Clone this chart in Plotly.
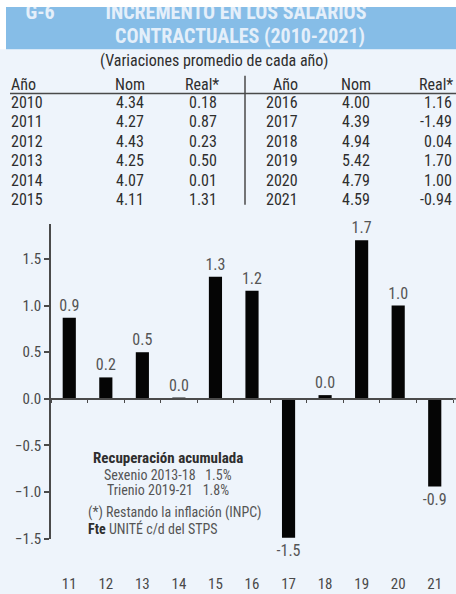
import plotly.graph_objects as go

W, H = 456, 594

# Annual average contractual wage increase (%), nominal and real
years = [2010, 2011, 2012, 2013, 2014, 2015, 2016, 2017, 2018, 2019, 2020, 2021]
nominal = [4.34, 4.27, 4.43, 4.25, 4.07, 4.11, 4.00, 4.39, 4.94, 5.42, 4.79, 4.59]
real = [0.18, 0.87, 0.23, 0.50, 0.01, 1.31, 1.16, -1.49, 0.04, 1.70, 1.00, -0.94]

# Bars show the real change from 2011 on, labelled by two-digit year
bar_years = [str(y)[2:] for y in years[1:]]
bar_values = real[1:]

y_ticks = [1.5, 1.0, 0.5, 0.0, -0.5, -1.0, -1.5]
y_min, y_max = -1.5, 1.88

NARROW = "Roboto Condensed, DejaVu Sans Condensed, Liberation Sans Narrow, sans-serif"
BG = "#eef4fb"
BAND = "#86bde7"
TITLE_C = "#e4effa"
DARK = "#2e2e2e"
GREY = "#4a4a4a"


def fx(px):
    return px / W


def fy(py):
    return 1 - py / H


# plot area in pixels
dom_x = (51, 453)
dom_y = (227, 547)
ydom = [fy(dom_y[1]), fy(dom_y[0])]
zero_pos = ydom[0] + (0 - y_min) / (y_max - y_min) * (ydom[1] - ydom[0])

fig = go.Figure()

fig.add_trace(go.Bar(
    x=bar_years, y=bar_values, width=0.36,
    marker=dict(color="#050505", line=dict(width=0)),
    texttemplate="%{y:.1f}", textposition="outside", cliponaxis=False,
    constraintext="none",
    textfont=dict(family=NARROW, size=16, color="#555555"),
    xaxis="x", yaxis="y", hoverinfo="skip",
))

# Header title drawn as text marks so the top strip can trim it
fig.add_trace(go.Scatter(
    x=[40, 236, 240], y=[14, 14, 39],
    text=["<b>G-6</b>", "<b>INCREMENTO EN LOS SALARIOS</b>", "<b>CONTRACTUALES (2010-2021)</b>"],
    mode="text", textposition="middle center",
    textfont=dict(family=NARROW, size=20, color=TITLE_C),
    xaxis="x3", yaxis="y3", hoverinfo="skip", cliponaxis=False,
))

annotations = []


def txt(s, px, py, size=16, color=DARK, xanchor="left", bold=False):
    annotations.append(dict(
        text=f"<b>{s}</b>" if bold else s, x=fx(px), y=fy(py),
        xref="paper", yref="paper", xanchor=xanchor, yanchor="middle",
        showarrow=False, font=dict(family=NARROW, size=size, color=color),
    ))


# Table of yearly values
txt("(Variaciones promedio de cada año)", 214, 61, size=16, xanchor="center")
head_y = 86
txt("Año", 9, head_y)
txt("Nom", 147, head_y, xanchor="right")
txt("Real*", 221, head_y, xanchor="right")
txt("Año", 300, head_y, xanchor="right")
txt("Nom", 373, head_y, xanchor="right")
txt("Real*", 455, head_y, xanchor="right")

half = len(years) // 2
for i in range(half):
    ry = 104 + 19.8 * i
    txt(str(years[i]), 9, ry)
    txt(f"{nominal[i]:.2f}", 146, ry, xanchor="right")
    txt(f"{real[i]:.2f}", 219, ry, xanchor="right")
    j = i + half
    txt(str(years[j]), 300, ry, xanchor="right")
    txt(f"{nominal[j]:.2f}", 372, ry, xanchor="right")
    txt(f"{real[j]:.2f}", 454, ry, xanchor="right")

# Notes inside the chart
txt("Recuperación acumulada", 168, 465, size=15, xanchor="center", bold=True, color=DARK)
txt("Sexenio 2013-18   1.5%", 168, 482, size=14, xanchor="center", color="#555555")
txt("Trienio 2019-21   1.8%", 168, 498, size=14, xanchor="center", color="#555555")
txt("(*) Restando la inflación (INPC)", 86, 520, size=14, color="#555555")
annotations.append(dict(
    text="<b>Fte</b> <span style='color:#555555'>UNITÉ c/d del STPS</span>",
    x=fx(86), y=fy(537), xref="paper", yref="paper", xanchor="left", yanchor="middle",
    showarrow=False, font=dict(family=NARROW, size=14, color=DARK),
))

shapes = [
    dict(type="rect", xref="paper", yref="paper", x0=0, x1=1, y0=fy(50), y1=1,
         fillcolor="white", line=dict(width=0), layer="below"),
    dict(type="rect", xref="paper", yref="paper", x0=fx(6), x1=1, y0=fy(50), y1=fy(7),
         fillcolor=BAND, line=dict(width=0), layer="below"),
    # white strip trimming the top of the header text
    dict(type="rect", xref="paper", yref="paper", x0=0, x1=1, y0=fy(7), y1=1,
         fillcolor="white", line=dict(width=0), layer="above"),
    # table rules
    dict(type="line", xref="paper", yref="paper", x0=fx(10), x1=1, y0=fy(95), y1=fy(95),
         line=dict(color=GREY, width=1.5)),
    dict(type="line", xref="paper", yref="paper", x0=fx(245), x1=fx(245), y0=fy(77), y1=fy(208),
         line=dict(color=GREY, width=1.5)),
    # zero line carried on to the right edge
    dict(type="line", xref="paper", yref="y", x0=fx(dom_x[1]), x1=1, y0=0, y1=0,
         line=dict(color=GREY, width=1.5)),
]

fig.update_layout(
    width=W, height=H, margin=dict(l=0, r=0, t=0, b=0),
    paper_bgcolor=BG, plot_bgcolor="rgba(0,0,0,0)",
    showlegend=False, annotations=annotations, shapes=shapes,
    xaxis=dict(
        domain=[fx(dom_x[0]), fx(dom_x[1])], anchor="free", position=zero_pos,
        type="category", range=[-0.5, len(bar_years) - 0.5],
        showline=True, linecolor=GREY, linewidth=1.5,
        ticks="outside", tickson="boundaries", ticklen=3, tickcolor=GREY, tickwidth=1,
        showticklabels=False, showgrid=False, zeroline=False, fixedrange=True,
    ),
    xaxis2=dict(
        domain=[fx(dom_x[0]), fx(dom_x[1])], overlaying="x", anchor="free",
        position=fy(582), range=[-0.5, len(bar_years) - 0.5],
        tickmode="array", tickvals=list(range(len(bar_years))), ticktext=bar_years,
        showline=False, ticks="", showgrid=False, zeroline=False,
        tickfont=dict(family=NARROW, size=15, color=GREY),
    ),
    yaxis=dict(
        domain=ydom, range=[y_min, y_max], anchor="x",
        tickmode="array", tickvals=y_ticks, tickformat=".1f",
        showline=True, linecolor=GREY, linewidth=1.5,
        ticks="outside", ticklen=5, tickcolor=GREY, tickwidth=1.5,
        showgrid=False, zeroline=False,
        tickfont=dict(family=NARROW, size=15, color=GREY),
    ),
    xaxis3=dict(domain=[0, 1], range=[0, W], visible=False, anchor="y3"),
    yaxis3=dict(domain=[0, 1], range=[H, 0], visible=False, anchor="x3"),
)

# keep the x2 labels visible without an actual trace on them
fig.add_trace(go.Scatter(x=[None], y=[None], xaxis="x2", yaxis="y", showlegend=False, hoverinfo="skip"))

fig.write_html("out.html")
